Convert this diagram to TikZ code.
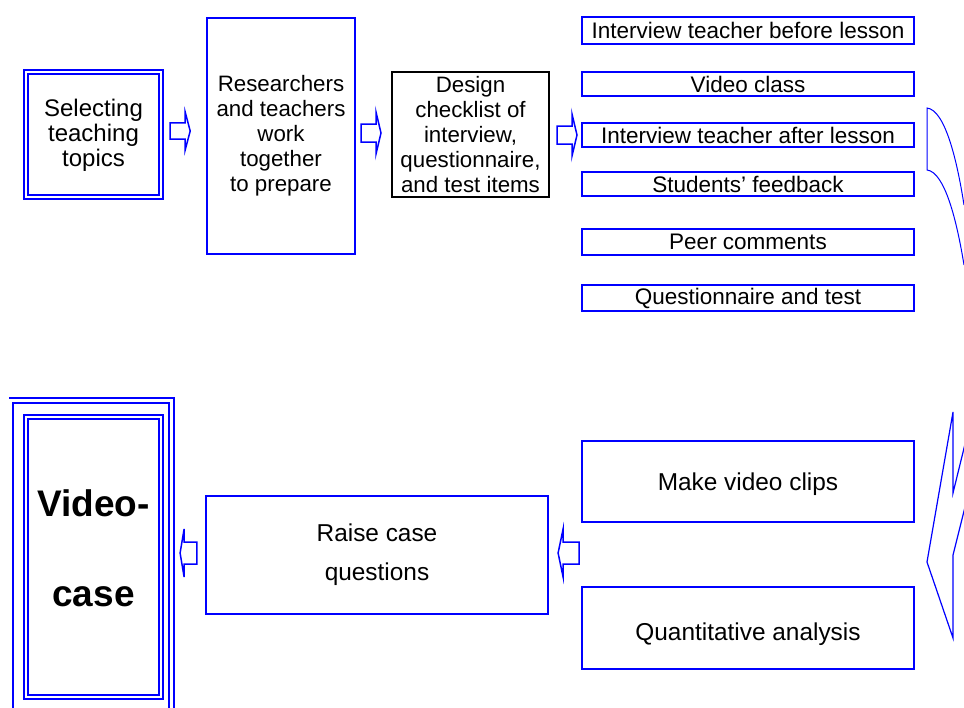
\documentclass[tikz,border=0pt]{standalone}
\usepackage{fontspec}
\setmainfont{Liberation Sans}
\usetikzlibrary{calc}
\begin{document}
\begin{tikzpicture}[x=1pt,y=-1pt,
  box/.style={draw=blue, line width=2pt, inner sep=0pt, align=center},
  dbox/.style={draw=blue, double=white, line width=2.2pt, double distance=1.4pt, inner sep=0pt, align=center},
  colbox/.style={box, line width=2.2pt, minimum width=332pt, font=\fontsize{22.5}{25}\selectfont},
  bigbox/.style={box, line width=2.2pt, font=\fontsize{24.4}{39}\selectfont},
  midfont/.style={font=\fontsize{22.3}{25}\selectfont},
  rblock/.pic={\draw[blue, line width=1.5pt, line join=miter] (-10,-9) -- (5,-9) -- (5,-21) -- (10,0) -- (5,21) -- (5,9) -- (-10,9) -- cycle;},
  lblock/.pic={\draw[blue, line width=1.5pt, line join=miter] (10,-11) -- (-6,-11) -- (-6,-24) -- (-11,0) -- (-6,24) -- (-6,11) -- (10,11) -- cycle;},
  thin/.style={draw=blue, line width=1.2pt, line join=miter}
]
\useasboundingbox (0,0) rectangle (964,707);
\clip (0,0) rectangle (964,707);

% top row
\node[dbox, minimum width=135.2pt, minimum height=125pt, font=\fontsize{24}{25}\selectfont, text depth=3pt] (sel) at (93.5,134.5) {Selecting\\teaching\\topics};
\node[box, midfont, minimum width=148pt, minimum height=236pt, text depth=6pt] (res) at (281,136) {Researchers\\and teachers\\work\\together\\to prepare};
\node[box, draw=black, midfont, minimum width=157pt, minimum height=125pt] (des) at (470.5,134.5) {Design\\checklist of\\interview,\\questionnaire,\\and test items};

% right column
\node[colbox, minimum height=27pt] (c1) at (748,30.5) {Interview teacher before lesson};
\node[colbox, minimum height=24pt] (c2) at (748,84) {Video class};
\node[colbox, minimum height=24pt] (c3) at (748,135) {Interview teacher after lesson};
\node[colbox, minimum height=24pt] (c4) at (748,184) {Students’ feedback};
\node[colbox, minimum height=26pt, text depth=0pt] (c5) at (748,242) {Peer comments};
\node[colbox, minimum height=26pt] (c6) at (748,298) {Questionnaire and test};

% block arrows, top row
\pic[yscale=0.9] at ($(sel.east)+(18,-3.5)$) {rblock};
\pic at ($(res.east)+(15,-3)$) {rblock};
\pic at ($(des.east)+(17,0.5)$) {rblock};

% right curved connector (partly outside the picture)
\draw[thin, line width=1pt] (964,205) .. controls (957,160) and (945,110) .. (927,108) -- (927,170) .. controls (945,172) and (957,222) .. (964,265);

% lower row
\node[bigbox, minimum width=332pt, minimum height=81pt, text depth=0pt] (clips) at (748,481.5) {Make video clips};
\node[bigbox, minimum width=332pt, minimum height=82pt, text depth=0pt, text height=24pt] (quant) at (748,628) {Quantitative analysis};
\node[bigbox, minimum width=342pt, minimum height=118pt] (raise) at (377,555) {Raise case\\questions};

% Video-case
\draw[blue, line width=2pt] (12.8,720) -- (12.8,403) -- (169,403) -- (169,720);
\draw[blue, line width=2pt] (9,398) -- (174,398) -- (174,720);
\node[dbox, minimum width=135.2pt, minimum height=280.2pt, font=\fontsize{37}{90}\bfseries\selectfont, text depth=18pt] (vc) at (93.5,557) {Video-\\case};

% lower arrows
\pic at ($(raise.east)+(20,-2)$) {lblock};
\pic[xscale=0.8] at ($(raise.west)+(-16,-2)$) {lblock};

% curved arrow head on the right (partly outside the picture)
\draw[thin] (966,440) -- (953,493) -- (953,412) -- (927,562) -- (953,638) -- (953,555) -- (966,503);
\end{tikzpicture}
\end{document}
